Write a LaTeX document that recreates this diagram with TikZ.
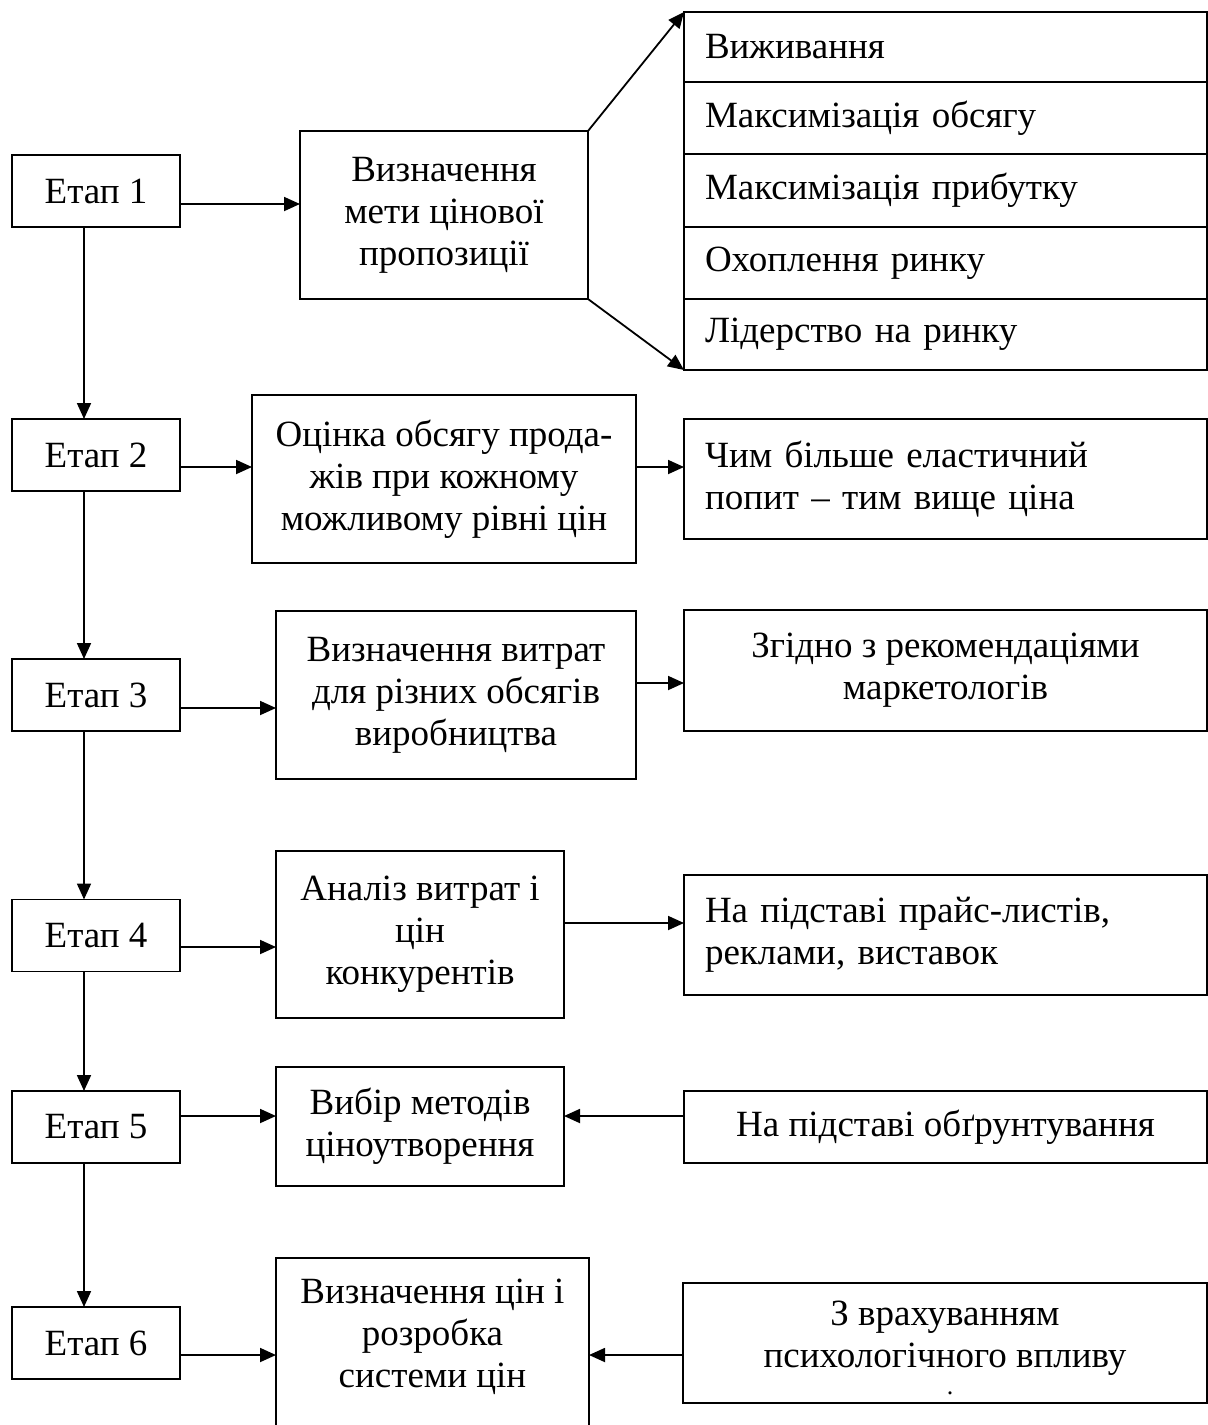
\documentclass[tikz,border=0pt]{standalone}
\usepackage{fontspec}
\setmainfont{Liberation Serif}
\usetikzlibrary{arrows.meta}
\begin{document}
\begin{tikzpicture}[x=1pt,y=-1pt,
  every node/.style={font=\fontsize{37}{42}\selectfont, inner sep=0pt, outer sep=0pt},
  box/.style={draw, line width=1.8pt, align=center},
  lbox/.style={draw, line width=1.8pt, align=left, text width=#1},
  arr/.style={line width=1.8pt, -{Triangle[length=16pt,width=14pt]}},
  ln/.style={line width=1.8pt}]
\useasboundingbox (0,0) rectangle (1208,1425);
% stages
\foreach \i/\cy in {1/191,2/455,3/695,4/935.5,5/1127,6/1343}
  \node[box, minimum width=168pt, minimum height=72pt] (e\i) at (96,\cy) {Етап \i};
% goal
\node[box, minimum width=288pt, minimum height=168pt] (goal) at (444,215) {Визначення\\мети цінової\\пропозиції};
% list
\node[lbox=481pt, minimum height=70pt, inner xsep=21pt] (r1) at (945.5,47) {Виживання};
\node[lbox=481pt, minimum height=72pt, inner xsep=21pt] (r2) at (945.5,118) {Максимізація обсягу};
\node[lbox=481pt, minimum height=73pt, inner xsep=21pt] (r3) at (945.5,190.5) {Максимізація прибутку};
\node[lbox=481pt, minimum height=72pt, inner xsep=21pt] (r4) at (945.5,263) {Охоплення ринку};
\node[lbox=481pt, minimum height=71pt, inner xsep=21pt] (r5) at (945.5,334.5) {Лідерство на ринку};
% stage 2
\node[box, minimum width=384pt, minimum height=168pt] (b2) at (444,479) {Оцінка обсягу прода-\\жів при кожному\\можливому рівні цін};
\node[lbox=481pt, minimum height=120pt, inner xsep=21pt] (c2) at (945.5,479) {Чим більше еластичний\\попит – тим вище ціна};
% stage 3
\node[box, minimum width=360pt, minimum height=168pt] (b3) at (456,695) {Визначення витрат\\для різних обсягів\\виробництва};
\node[box, minimum width=523pt, minimum height=121pt] (c3) at (945.5,670.5) {Згідно з рекомендаціями\\маркетологів};
% stage 4
\node[box, minimum width=288pt, minimum height=167pt] (b4) at (420,934.5) {Аналіз витрат і\\цін\\конкурентів};
\node[lbox=481pt, minimum height=120pt, inner xsep=21pt] (c4) at (945.5,935) {На підставі прайс-листів,\\реклами, виставок};
% stage 5
\node[box, minimum width=288pt, minimum height=119pt] (b5) at (420,1126.5) {Вибір методів\\ціноутворення};
\node[box, minimum width=523pt, minimum height=72pt] (c5) at (945.5,1127) {На підставі обґрунтування};
% stage 6
\node[box, minimum width=313pt, minimum height=192pt] (b6) at (432.5,1354) {};
\node[align=center] (b6t) at (432.5,1337) {Визначення цін і\\розробка\\системи цін};
\node[box, minimum width=524pt, minimum height=120pt] (c6) at (945,1343) {};
\node[align=center] (c6t) at (945,1338) {З врахуванням\\психологічного впливу};
\node[font=\fontsize{26}{28}\selectfont] (c6dot) at (950,1393) {.};
% connectors
\foreach \a/\b in {1/2,2/3,3/4,4/5,5/6}
  \draw[arr] (e\a.south -| 84,0) -- (e\b.north -| 84,0);
\draw[arr] (e1.east |- 0,204) -- (goal.west |- 0,204);
\draw[arr] (goal.north east) -- (r1.north west);
\draw[arr] (goal.south east) -- (r5.south west);
\draw[arr] (e2.east |- 0,467) -- (b2.west |- 0,467);
\draw[arr] (b2.east |- 0,467) -- (c2.west |- 0,467);
\draw[arr] (e3.east |- 0,708) -- (b3.west |- 0,708);
\draw[arr] (b3.east |- 0,683) -- (c3.west |- 0,683);
\draw[arr] (e4.east |- 0,947) -- (b4.west |- 0,947);
\draw[arr] (b4.east |- 0,923) -- (c4.west |- 0,923);
\draw[arr] (e5.east |- 0,1116) -- (b5.west |- 0,1116);
\draw[arr] (c5.west |- 0,1116) -- (b5.east |- 0,1116);
\draw[arr] (e6.east |- 0,1355) -- (b6.west |- 0,1355);
\draw[arr] (c6.west |- 0,1355) -- (b6.east |- 0,1355);
\end{tikzpicture}
\end{document}
